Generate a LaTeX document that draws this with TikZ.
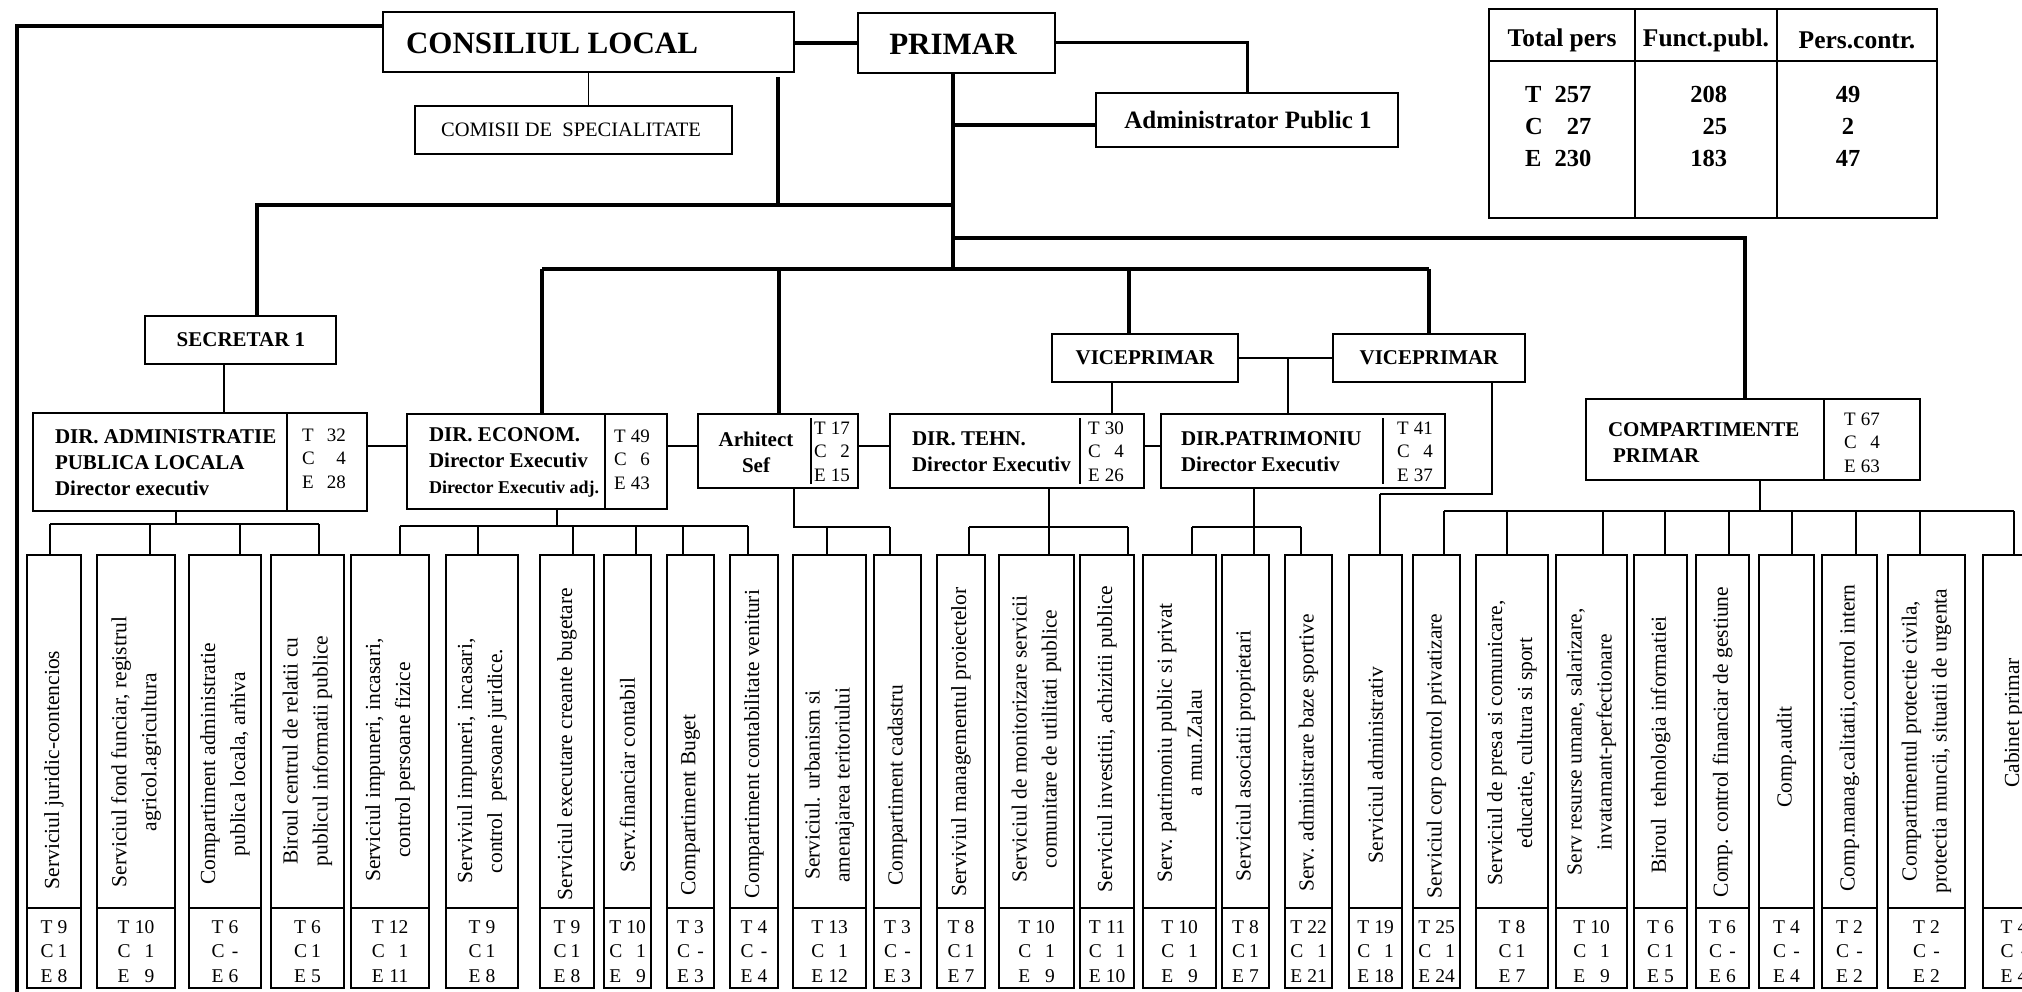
\documentclass[tikz,border=0pt]{standalone}
\usepackage{fontspec}
\setmainfont{Liberation Serif}
\newcommand\fTitle{\fontsize{31}{36}\selectfont\bfseries}
\newcommand\fHd{\fontsize{21}{26}\selectfont\bfseries}
\newcommand\fHdS{\fontsize{18}{22}\selectfont\bfseries}
\newcommand\fTabH{\fontsize{25.5}{30}\selectfont\bfseries}
\newcommand\fTab{\fontsize{24.5}{32}\selectfont\bfseries}
\newcommand\fNr{\fontsize{19}{23.5}\selectfont}
\newcommand\fBn{\fontsize{19.5}{24.5}\selectfont}
\newcommand\fVt{\fontsize{21.5}{30}\selectfont}
\newcommand\fCom{\fontsize{20.5}{24}\selectfont}
\newcommand\tce[3]{\begin{tabular}{@{}l@{\hspace{4pt}}r@{}}T&#1\\C&#2\\E&#3\end{tabular}}
\newcommand\tcew[3]{\begin{tabular}{@{}l@{\hspace{12pt}}r@{}}T&#1\\C&#2\\E&#3\end{tabular}}
\tikzset{
  bx/.style={draw,line width=1.7pt,rectangle,inner sep=0pt,outer sep=0pt},
  txt/.style={inner sep=0pt,outer sep=0pt},
  thk/.style={line width=4.5pt},
  med/.style={line width=3pt},
  thn/.style={line width=1.7pt},
}
% bottom box: name, x1, x2, dropx, text centre y, text, T, C, E
\newcommand\bb[9]{%
  \node[bx,minimum width={#3-#2},minimum height=433] (#1) at ({(#2+#3)/2},771.5) {};
  \draw[thn] (#1.west |- 0,908) -- (#1.east |- 0,908);
  \node[txt,rotate=90,align=center,font=\fVt] (#1t) at ({(#2+#3)/2},#5) {#6};
  \node[txt,font=\fBn] (#1n) at ({(#2+#3)/2},953) {\tce{#7}{#8}{#9}};
  \draw[thn] (#4,\busy) -- (#4,\busy |- #1.north);
}
\begin{document}
\begin{tikzpicture}[x=1pt,y=-1pt]
\useasboundingbox (0,0) rectangle (2022,992);
\fill[white] (0,0) rectangle (2022,992);
\clip (0,0) rectangle (2022,992);

% top boxes
\node[bx,minimum width=411,minimum height=60] (cl) at (588.5,42) {};
\node[txt,font=\fTitle] (clt) at (552,43) {CONSILIUL LOCAL};
\node[bx,minimum width=197,minimum height=60] (pr) at (956.5,43) {};
\node[txt,font=\fTitle] (prt) at (953,44) {PRIMAR};
\node[bx,minimum width=317,minimum height=48] (com) at (573.5,130) {};
\node[txt,font=\fCom] (comt) at (571,130) {COMISII DE\hspace{0.5em}SPECIALITATE};
\node[bx,minimum width=302,minimum height=54] (adm) at (1247,120) {};
\node[txt,font=\fontsize{25}{28}\selectfont\bfseries] (admt) at (1248,120) {Administrator Public 1};

% table
\node[bx,minimum width=448,minimum height=209] (tab) at (1713,113.5) {};
\draw[thn] (tab.west |- 0,61) -- (tab.east |- 0,61);
\draw[thn] (tab.north -| 1635,0) -- (tab.south -| 1635,0);
\draw[thn] (tab.north -| 1777,0) -- (tab.south -| 1777,0);
\node[txt,font=\fTabH] (h1) at (1562,40) {Total pers};
\node[txt,font=\fTabH] (h2) at (1706,40) {Funct.publ.};
\node[txt,font=\fTabH] (h3) at (1857,40) {Pers.contr.};
\node[txt,font=\fTab,anchor=north west] (c1) at (1525,80) {\begin{tabular}{@{}l@{\hspace{12pt}}r@{}}T&257\\C&27\\E&230\end{tabular}};
\node[txt,font=\fTab,anchor=north east] (c2) at (1727,80) {\begin{tabular}{@{}r@{}}208\\25\\183\end{tabular}};
\node[txt,font=\fTab,anchor=north] (c3) at (1848,80) {\begin{tabular}{@{}c@{}}49\\2\\47\end{tabular}};

% second level
\node[bx,minimum width=191,minimum height=48] (sec) at (240.5,340) {};
\node[txt,font=\fHd] (sect) at (241,340) {SECRETAR 1};
\node[bx,minimum width=186,minimum height=48] (vp1) at (1145,358) {};
\node[txt,font=\fHd] (vp1t) at (1145,358) {VICEPRIMAR};
\node[bx,minimum width=192,minimum height=48] (vp2) at (1429,358) {};
\node[txt,font=\fHd] (vp2t) at (1429,358) {VICEPRIMAR};

% directorates
\node[bx,minimum width=334,minimum height=98] (da) at (200,462) {};
\draw[thn] (da.north -| 287,0) -- (da.south -| 287,0);
\node[txt,anchor=west,align=left,font=\fHd] (dat) at (55,463) {DIR. ADMINISTRATIE\\PUBLICA LOCALA\\Director executiv};
\node[txt,font=\fNr] (dan) at (324,460) {\tcew{32}{4}{28}};

\node[bx,minimum width=260,minimum height=95] (de) at (537,461.5) {};
\draw[thn] (de.north -| 605,0) -- (de.south -| 605,0);
\node[txt,anchor=west,align=left,font=\fHd] (det) at (429,462) {DIR. ECONOM.\\Director Executiv\\{\fHdS Director Executiv adj.}};
\node[txt,font=\fNr] (den) at (632,461) {\tce{49}{6}{43}};

\node[bx,minimum width=160,minimum height=74] (ar) at (778,451) {};
\draw[thn] (811,418) -- (811,484);
\node[txt,align=center,font=\fHd] (art) at (756,452) {Arhitect\\Sef};
\node[txt,font=\fNr] (arn) at (832,453) {\tce{17}{2}{15}};

\node[bx,minimum width=254,minimum height=74] (dt) at (1017,451) {};
\draw[thn] (1080,418) -- (1080,484);
\node[txt,anchor=west,align=left,font=\fHd] (dtt) at (912,452) {DIR. TEHN.\\Director Executiv};
\node[txt,font=\fNr] (dtn) at (1106,453) {\tce{30}{4}{26}};

\node[bx,minimum width=284,minimum height=74] (dp) at (1303,451) {};
\draw[thn] (1383,418) -- (1383,484);
\node[txt,anchor=west,align=left,font=\fHd] (dpt) at (1181,452) {DIR.PATRIMONIU\\Director Executiv};
\node[txt,font=\fNr] (dpn) at (1415,453) {\tce{41}{4}{37}};

\node[bx,minimum width=334,minimum height=81] (cp) at (1753,439.5) {};
\draw[thn] (cp.north -| 1824,0) -- (cp.south -| 1824,0);
\node[txt,anchor=west,align=left,font=\fHd] (cpt) at (1608,443) {COMPARTIMENTE\\\hspace{5pt}PRIMAR};
\node[txt,font=\fNr] (cpn) at (1862,444) {\tce{67}{4}{63}};

% thick hierarchy
\coordinate (clb) at (778,77);
\draw[thk] (17,1000) -- (17,26) -- (cl.west |- 0,26);
\draw[thk] (cl.east |- pr.west) -- (pr.west);
\draw[med] (pr.east) -| (adm.north);
\draw[thk] (pr.south -| 953,0) -- (953,269);
\draw[thk] (953,125) -- (953,125 -| adm.west);
\draw[thk] (953,205) -- (257,205) -- (257,205 |- sec.north);
\draw[thk] (clb) -- (778,205);
\draw[thk] (953,238) -- (1745,238) -- (1745,238 |- cp.north);
\draw[thk] (542,269) -- (1429,269);
\draw[thk] (542,269) -- (542,269 |- de.north);
\draw[thk] (779,269) -- (779,269 |- ar.north);
\draw[thk] (1129,269) -- (1129,269 |- vp1.north);
\draw[thk] (1429,269) -- (1429,269 |- vp2.north);

% thin connectors
\draw[thn] (cl.south) -- (cl.south |- com.north);
\draw[thn] (sec.south -| 224,0) -- (224,0 |- da.north);
\draw[thn] (da.east |- 0,446) -- (de.west |- 0,446);
\draw[thn] (de.east |- 0,446) -- (ar.west |- 0,446);
\draw[thn] (ar.east |- 0,446) -- (dt.west |- 0,446);
\draw[thn] (dt.east |- 0,446) -- (dp.west |- 0,446);
\draw[thn] (vp1.east) -- (vp2.west);
\draw[thn] (1288,358) -- (1288,358 |- dp.north);
\draw[thn] (vp1.south -| 1112,0) -- (1112,0 |- dt.north);

% sub buses
\draw[thn] (da.south -| 176,0) -- (176,524);
\draw[thn] (50,524) -- (319,524);
\draw[thn] (de.south -| 557,0) -- (557,526);
\draw[thn] (400,526) -- (748,526);
\draw[thn] (ar.south -| 794,0) -- (794,527) -- (890,527);
\draw[thn] (dt.south -| 1049,0) -- (1049,527);
\draw[thn] (969,527) -- (1128,527);
\draw[thn] (dp.south -| 1254,0) -- (1254,527);
\draw[thn] (1192,527) -- (1301,527);
\draw[thn] (cp.south -| 1760,0) -- (1760,511);
\draw[thn] (1444,511) -- (2014,511);

% bottom boxes
\def\busy{524}
\bb{b1}{27}{81}{50}{770}{Serviciul juridic-contencios}{9}{1}{8}
\bb{b2}{97}{175}{150}{752}{Serviciul fond funciar, registrul\\agricol.agricultura}{10}{1}{9}
\bb{b3}{189}{261}{240}{764}{Compartiment administratie\\publica locala, arhiva}{6}{-}{6}
\bb{b4}{271}{344}{319}{751}{Biroul centrul de relatii cu\\publicul informatii publice}{6}{1}{5}
\def\busy{526}
\bb{b5}{351}{429}{400}{760}{Serviciul impuneri, incasari,\\control persoane fizice}{12}{1}{11}
\bb{b6}{446}{518}{478}{761}{Serviviul impuneri, incasari,\\control\ \ persoane juridice.}{9}{1}{8}
\bb{b7}{540}{594}{573}{744}{Serviciul executare creante bugetare}{9}{1}{8}
\bb{b8}{604}{651}{636}{775}{Serv.financiar contabil}{10}{1}{9}
\bb{b9}{667}{714}{683}{805}{Compartiment Buget}{3}{-}{3}
\bb{b10}{730}{778}{748}{744}{Compartiment contabilitate venituri}{4}{-}{4}
\def\busy{527}
\bb{b11}{793}{866}{827}{785}{Serviciul. urbanism si\\amenajarea teritoriului}{13}{1}{12}
\bb{b12}{874}{921}{890}{785}{Compartiment cadastru}{3}{-}{3}
\bb{b13}{937}{985}{969}{742}{Serviviul managementul proiectelor}{8}{1}{7}
\bb{b14}{999}{1074}{1049}{739}{Serviciul de monitorizare servicii\\comunitare de utilitati publice}{10}{1}{9}
\bb{b15}{1080}{1134}{1128}{739}{Serviciul investitii, achizitii publice}{11}{1}{10}
\bb{b16}{1143}{1216}{1192}{743}{Serv. patrimoniu public si privat\\a mun.Zalau}{10}{1}{9}
\bb{b17}{1222}{1269}{1254}{756}{Serviciul asociatii proprietari}{8}{1}{7}
\bb{b18}{1285}{1332}{1301}{753}{Serv. administrare baze sportive}{22}{1}{21}
\def\busy{494}
\bb{b19}{1349}{1402}{1380}{765}{Serviciul administrativ}{19}{1}{18}
\def\busy{511}
\bb{b20}{1413}{1460}{1444}{756}{Serviciul corp control privatizare}{25}{1}{24}
\bb{b21}{1476}{1548}{1507}{743}{Serviciul de presa si comunicare,\\educatie, cultura si sport}{8}{1}{7}
\bb{b22}{1556}{1627}{1603}{742}{Serv resurse umane, salarizare,\\invatamant-perfectionare}{10}{1}{9}
\bb{b23}{1634}{1687}{1665}{745}{Biroul\ \ tehnologia informatiei}{6}{1}{5}
\bb{b24}{1696}{1749}{1729}{742}{Comp. control financiar de gestiune}{6}{-}{6}
\bb{b25}{1759}{1814}{1792}{757}{Comp.audit}{4}{-}{4}
\bb{b26}{1822}{1877}{1856}{738}{Comp.manag.calitatii,control intern}{2}{-}{2}
\bb{b27}{1888}{1965}{1920}{741}{Compartimentul protectie civila,\\protectia muncii, situatii de urgenta}{2}{-}{2}
\bb{b28}{1983}{2045}{2014}{723}{Cabinet primar}{4}{-}{4}

% vice-mayor 2 to Serviciul administrativ
\draw[thn] (vp2.south -| 1492,0) |- (1380,494);
\end{tikzpicture}
\end{document}
